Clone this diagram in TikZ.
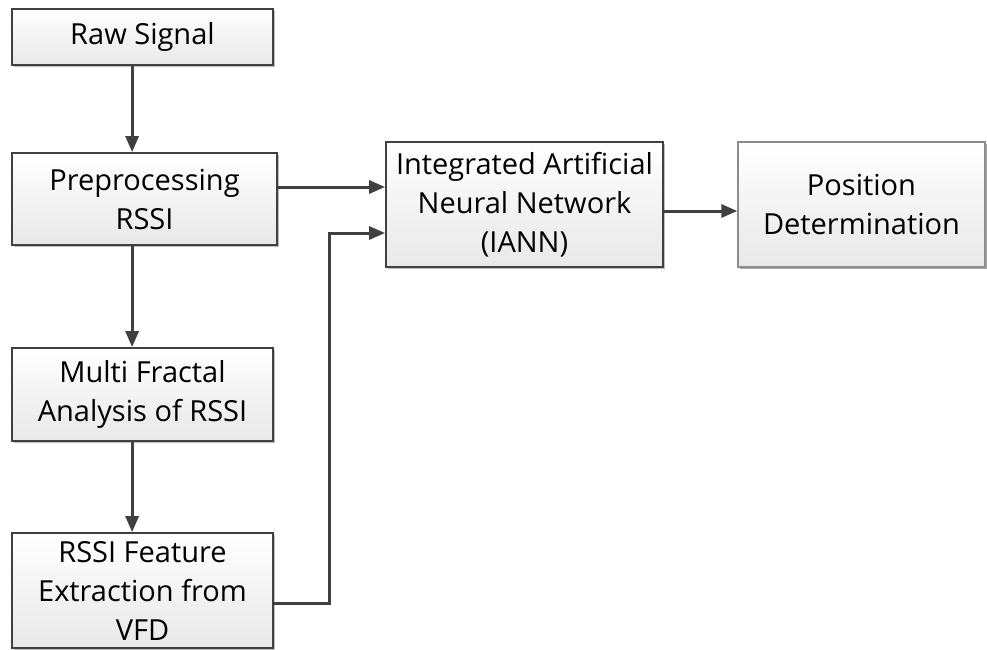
\documentclass[tikz,border=0pt]{standalone}
\usepackage{fontspec}
\setmainfont{Open Sans}
\usetikzlibrary{arrows.meta,shadows}
\definecolor{edge}{HTML}{404040}
\definecolor{softedge}{HTML}{8C8C8C}
\begin{document}
\begin{tikzpicture}[x=1pt,y=-1pt,
  box/.style={draw=edge, line width=1.8pt, top color=white, bottom color=black!9,
    drop shadow={shadow xshift=2pt, shadow yshift=-2pt, opacity=0.25, fill=black},
    align=center, inner sep=1pt, font=\fontsize{29}{39}\selectfont},
  lightbox/.style={box, draw=softedge, line width=1.3pt,
    drop shadow={shadow xshift=1.5pt, shadow yshift=-1.5pt, opacity=0.12, fill=black}},
  arr/.style={draw=edge, line width=3pt, -{Triangle[length=16pt,width=13pt]}}]
\useasboundingbox (0,0) rectangle (987,649);

% processing chain, left column
\node[box, minimum width=261pt, minimum height=56pt] (raw) at (142.5,37) {Raw Signal};
\node[box, minimum width=265pt, minimum height=92pt] (pre) at (144.5,199) {Preprocessing\\RSSI};
\node[box, minimum width=261pt, minimum height=93pt] (mfa) at (142.5,394.5) {Multi Fractal\\Analysis of RSSI};
\node[box, minimum width=261pt, minimum height=115pt] (rfe) at (142.5,590.5) {RSSI Feature\\Extraction from\\VFD};

% network and output
\node[box, minimum width=277pt, minimum height=125pt] (iann) at (524.5,204.5) {Integrated Artificial\\Neural Network\\(IANN)};
\node[lightbox, minimum width=247pt, minimum height=125pt] (pos) at (861.5,204.5) {Position\\Determination};

% connectors
\draw[arr] ([xshift=121pt]raw.south west) -- ([xshift=121pt]pre.north west);
\draw[arr] ([xshift=121pt]pre.south west) -- ([xshift=121pt]mfa.north west);
\draw[arr] ([xshift=121pt]mfa.south west) -- ([xshift=121pt]rfe.north west);
\draw[arr] ([yshift=12pt]pre.east) -- ([yshift=12pt]pre.east -| iann.west);
\draw[arr] ([yshift=-6.5pt]iann.east) -- ([yshift=-6.5pt]iann.east -| pos.west);
\draw[arr] ([yshift=-12.5pt]rfe.east) -- ++(56,0) |- ([yshift=-28.5pt]iann.west);
\end{tikzpicture}
\end{document}
